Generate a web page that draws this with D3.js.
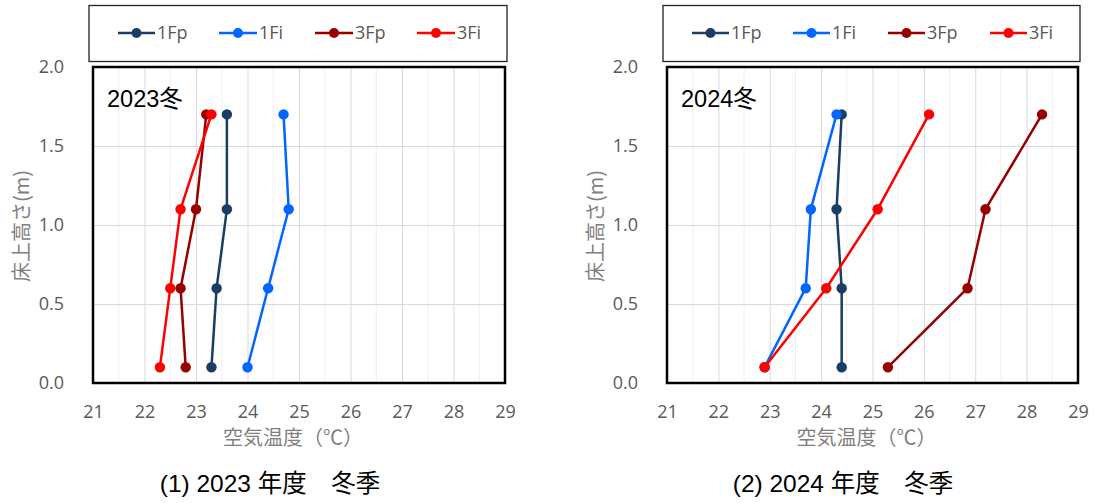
<!DOCTYPE html>
<html>
<head>
<meta charset="utf-8">
<script src="https://cdn.jsdelivr.net/npm/d3@7"></script>
<style>
  html, body { margin: 0; padding: 0; background: #fff; }
  svg { display: block; }
</style>
</head>
<body>
<svg id="chart" width="1096" height="503"></svg>
<script>
// Measurement heights above floor (m)
const heights = [0.1, 0.6, 1.1, 1.7];
const seriesNames = ["1Fp", "1Fi", "3Fp", "3Fi"];
const seriesColors = ["#1c3d63", "#0066ff", "#960000", "#ff0000"];

// Air temperature (°C) per series, winter 2023
const t2023_1Fp = [23.3, 23.4, 23.6, 23.6];
const t2023_1Fi = [24.0, 24.4, 24.8, 24.7];
const t2023_3Fp = [22.8, 22.7, 23.0, 23.2];
const t2023_3Fi = [22.3, 22.5, 22.7, 23.3];

// Air temperature (°C) per series, winter 2024
const t2024_1Fp = [24.4, 24.4, 24.3, 24.4];
const t2024_1Fi = [22.9, 23.7, 23.8, 24.3];
const t2024_3Fp = [25.3, 26.85, 27.2, 28.3];
const t2024_3Fi = [22.9, 24.1, 25.1, 26.1];

const xTicks = [21, 22, 23, 24, 25, 26, 27, 28, 29];
const yTicks = [0.0, 0.5, 1.0, 1.5, 2.0];

const panels = [
  { tag: "2023冬", caption: "(1) 2023 年度　冬季",
    values: [t2023_1Fp, t2023_1Fi, t2023_3Fp, t2023_3Fi],
    x0: 93, x1: 505, lx0: 89, lx1: 507, capX: 270,
    legendPos: [[118, 155], [219, 257], [315, 353], [417, 455]] },
  { tag: "2024冬", caption: "(2) 2024 年度　冬季",
    values: [t2024_1Fp, t2024_1Fi, t2024_3Fp, t2024_3Fi],
    x0: 667, x1: 1078, lx0: 663, lx1: 1080, capX: 843,
    legendPos: [[692, 729], [793, 830], [888, 925], [990, 1027]] }
];

const svg = d3.select("#chart");
const latin = "'Open Sans', 'Liberation Sans', Arial, sans-serif";
const mixed = "'Liberation Sans', 'Noto Sans CJK JP', sans-serif";
const cjk = "'Noto Sans CJK JP', 'Noto Sans', sans-serif";
const plotTop = 67, plotBottom = 383;

panels.forEach(p => {
  const g = svg.append("g");
  const x = d3.scaleLinear().domain([21, 29]).range([p.x0, p.x1]);
  const y = d3.scaleLinear().domain([0, 2]).range([plotBottom, plotTop]);

  // Legend box
  g.append("rect")
    .attr("x", p.lx0).attr("y", 5.5)
    .attr("width", p.lx1 - p.lx0).attr("height", 56)
    .attr("fill", "#fff").attr("stroke", "#222").attr("stroke-width", 1.3);

  const ly = 33;
  seriesNames.forEach((name, i) => {
    const [a, b] = p.legendPos[i];
    g.append("line").attr("x1", a).attr("x2", b).attr("y1", ly).attr("y2", ly)
      .attr("stroke", seriesColors[i]).attr("stroke-width", 2.5);
    g.append("circle").attr("cx", (a + b) / 2).attr("cy", ly).attr("r", 5)
      .attr("fill", seriesColors[i]);
    g.append("text").attr("x", b + 2).attr("y", ly).attr("dy", "0.35em")
      .attr("font-family", latin).attr("font-size", 18).attr("fill", "#595959")
      .text(name);
  });

  // Minor vertical gridlines every 0.5 °C
  const minor = d3.range(21.5, 29, 1);
  g.append("g").selectAll("line").data(minor).join("line")
    .attr("x1", d => x(d)).attr("x2", d => x(d))
    .attr("y1", plotTop).attr("y2", plotBottom)
    .attr("stroke", "#efefef").attr("stroke-width", 1);

  // Major gridlines via axes
  g.append("g")
    .attr("transform", `translate(0,${plotBottom})`)
    .call(d3.axisBottom(x).tickValues(xTicks).tickSize(-(plotBottom - plotTop)).tickFormat(""))
    .call(s => s.select(".domain").remove())
    .call(s => s.selectAll("line").attr("stroke", "#d9d9d9").attr("stroke-width", 1));
  g.append("g")
    .attr("transform", `translate(${p.x0},0)`)
    .call(d3.axisLeft(y).tickValues(yTicks).tickSize(-(p.x1 - p.x0)).tickFormat(""))
    .call(s => s.select(".domain").remove())
    .call(s => s.selectAll("line").attr("stroke", "#d9d9d9").attr("stroke-width", 1));

  // Tick labels
  const xl = g.append("g")
    .attr("transform", `translate(0,${plotBottom + 19})`)
    .call(d3.axisBottom(x).tickValues(xTicks).tickSize(0).tickFormat(d3.format("d")));
  xl.select(".domain").remove();
  xl.selectAll("text").attr("font-family", latin).attr("font-size", 18).attr("fill", "#595959");

  const yl = g.append("g")
    .attr("transform", `translate(${p.x0 - 26},0)`)
    .call(d3.axisLeft(y).tickValues(yTicks).tickSize(0).tickFormat(d3.format(".1f")));
  yl.select(".domain").remove();
  yl.selectAll("text").attr("font-family", latin).attr("font-size", 18).attr("fill", "#595959");

  // Series
  const line = d3.line().x(d => x(d[0])).y(d => y(d[1]));
  p.values.forEach((vals, i) => {
    const pts = vals.map((v, k) => [v, heights[k]]);
    const sg = g.append("g");
    sg.append("path").datum(pts).attr("d", line)
      .attr("fill", "none").attr("stroke", seriesColors[i]).attr("stroke-width", 2.5)
      .attr("stroke-linejoin", "round");
    sg.selectAll("circle").data(pts).join("circle")
      .attr("cx", d => x(d[0])).attr("cy", d => y(d[1])).attr("r", 5.2)
      .attr("fill", seriesColors[i]);
  });

  // Plot border
  g.append("rect")
    .attr("x", p.x0).attr("y", plotTop)
    .attr("width", p.x1 - p.x0).attr("height", plotBottom - plotTop)
    .attr("fill", "none").attr("stroke", "#000").attr("stroke-width", 2.5);

  // Panel tag
  g.append("text").attr("x", p.x0 + 14).attr("y", 106.5)
    .attr("font-family", mixed).attr("font-size", 23.5).attr("fill", "#000")
    .text(p.tag);

  // Axis titles
  const cx = (p.x0 + p.x1) / 2;
  g.append("text").attr("x", cx - 6).attr("y", 438).attr("dy", "0.35em")
    .attr("text-anchor", "middle").attr("font-family", cjk).attr("font-size", 20)
    .attr("fill", "#7f7f7f").text("空気温度（℃）");

  g.append("text")
    .attr("transform", `translate(${p.x0 - 71},226) rotate(-90)`)
    .attr("dy", "0.35em").attr("text-anchor", "middle")
    .attr("font-family", cjk).attr("font-size", 20).attr("fill", "#7f7f7f")
    .text("床上高さ(m)");

  // Caption
  g.append("text").attr("x", p.capX).attr("y", 492)
    .attr("text-anchor", "middle").attr("font-family", mixed).attr("font-size", 24.5)
    .attr("fill", "#000").text(p.caption);
});
</script>
</body>
</html>
